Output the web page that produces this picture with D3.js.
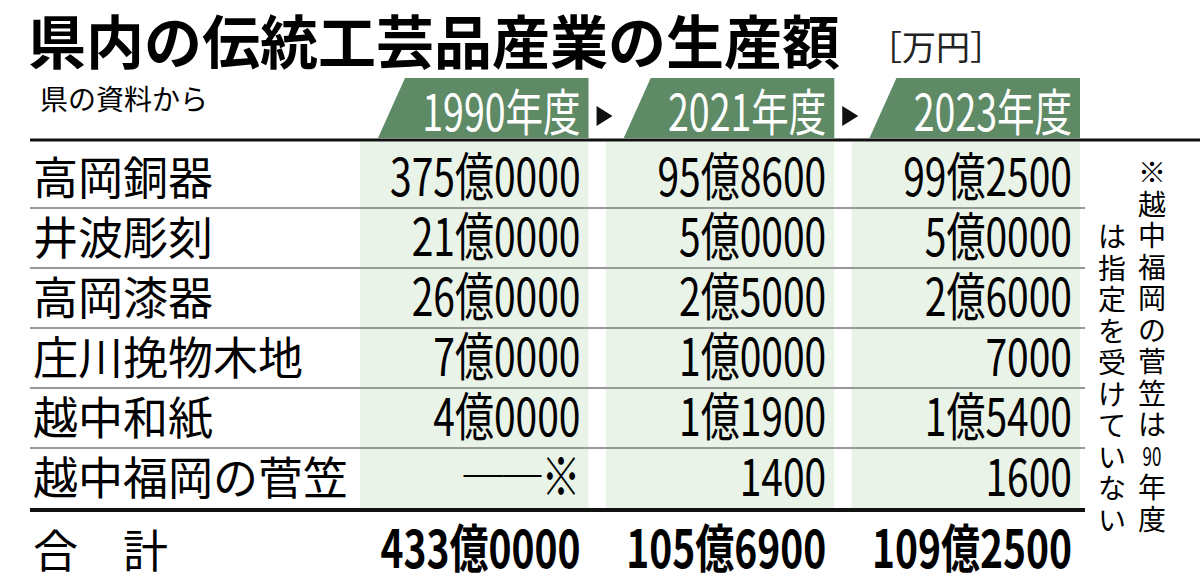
<!DOCTYPE html>
<html><head><meta charset="utf-8">
<script src="https://cdn.jsdelivr.net/npm/d3@7"></script>
<style>body{margin:0;background:#fff}text{font-family:"Noto Sans CJK JP",sans-serif}</style>
</head><body><svg id="c" width="1200" height="583"></svg>
<script>
const categories=["高岡銅器","井波彫刻","高岡漆器","庄川挽物木地","越中和紙","越中福岡の菅笠"];
const years=["1990年度","2021年度","2023年度"];
const values1990=["375億0000","21億0000","26億0000","7億0000","4億0000","──※"];
const values2021=["95億8600","5億0000","2億5000","1億0000","1億1900","1400"];
const values2023=["99億2500","5億0000","2億6000","7000","1億5400","1600"];
const totals=["433億0000","105億6900","109億2500"];
const noteRight=["※","越","中","福","岡","の","菅","笠","は","90","年","度"];
const noteLeft=["は","指","定","を","受","け","て","い","な","い"];

const svg=d3.select("#c");
const cols=[values1990,values2021,values2023];
const x=d3.scaleBand().domain(years).range([360,1080]).paddingInner(0.07);
const y=d3.scaleBand().domain(categories).range([148,508]);
const green="#5e8a66", light="#e9f3e7";

svg.append("text").attr("x",28).attr("y",64).attr("font-size",58).attr("font-weight",700).text("県内の伝統工芸品産業の生産額");
svg.append("text").attr("x",868).attr("y",60).attr("font-size",34).attr("fill","#222").text("［万円］");
svg.append("text").attr("x",40).attr("y",110).attr("font-size",28).text("県の資料から");

years.forEach((yr,i)=>{
  const x0=x(yr), w=x.bandwidth();
  svg.append("rect").attr("x",x0).attr("y",142).attr("width",w).attr("height",366).attr("fill",light);
  svg.append("path").attr("d",`M${x0+45},78 L${x0+w},78 L${x0+w},138 L${x0+18},138 Z`).attr("fill",green);
  const xr=x0+w-8;
  svg.append("text").attr("x",xr).attr("y",131).attr("text-anchor","end").attr("font-size",50).attr("fill","#fff")
    .attr("transform",`translate(${xr*0.25},0) scale(0.75,1)`).text(yr);
  if(i<2){const ax=x0+w+8;svg.append("path").attr("d",`M${ax},106 L${ax+16},116 L${ax},126 Z`).attr("fill","#111");}
});
svg.append("line").attr("x1",30).attr("x2",1200).attr("y1",140).attr("y2",140).attr("stroke","#111").attr("stroke-width",3);
categories.forEach((c,r)=>{
  const yc=y(c)+y.bandwidth()/2;
  if(r>0) svg.append("line").attr("x1",30).attr("x2",1085).attr("y1",y(c)).attr("y2",y(c)).attr("stroke","#999").attr("stroke-width",2);
  svg.append("text").attr("x",33).attr("y",yc+17).attr("font-size",45).text(c);
  cols.forEach((vals,i)=>{
    const xr=x(years[i])+x.bandwidth()-8;
    svg.append("text").attr("x",xr).attr("y",yc+18).attr("text-anchor","end").attr("font-size",52)
      .attr("transform",`translate(${xr*0.25},0) scale(0.75,1)`).text(vals[r]);
  });
});
svg.append("line").attr("x1",30).attr("x2",1085).attr("y1",510).attr("y2",510).attr("stroke","#111").attr("stroke-width",4);
svg.append("text").attr("x",33).attr("y",568).attr("font-size",45).text("合　計");
totals.forEach((t,i)=>{
  const xr=x(years[i])+x.bandwidth()-8;
  svg.append("text").attr("x",xr).attr("y",568).attr("text-anchor","end").attr("font-size",52).attr("font-weight",700)
    .attr("transform",`translate(${xr*0.25},0) scale(0.75,1)`).text(t);
});
function vcol(chars,cx,y0){
  chars.forEach((ch,k)=>{
    svg.append("text").attr("x",cx).attr("y",y0+k*31.5).attr("text-anchor","middle").attr("font-size",ch.length>1?26:28)
      .attr("transform",ch.length>1?`translate(${cx*0.35},0) scale(0.65,1)`:null).text(ch);
  });
}
vcol(noteRight,1152,183);
vcol(noteLeft,1112,247);
</script></body></html>
